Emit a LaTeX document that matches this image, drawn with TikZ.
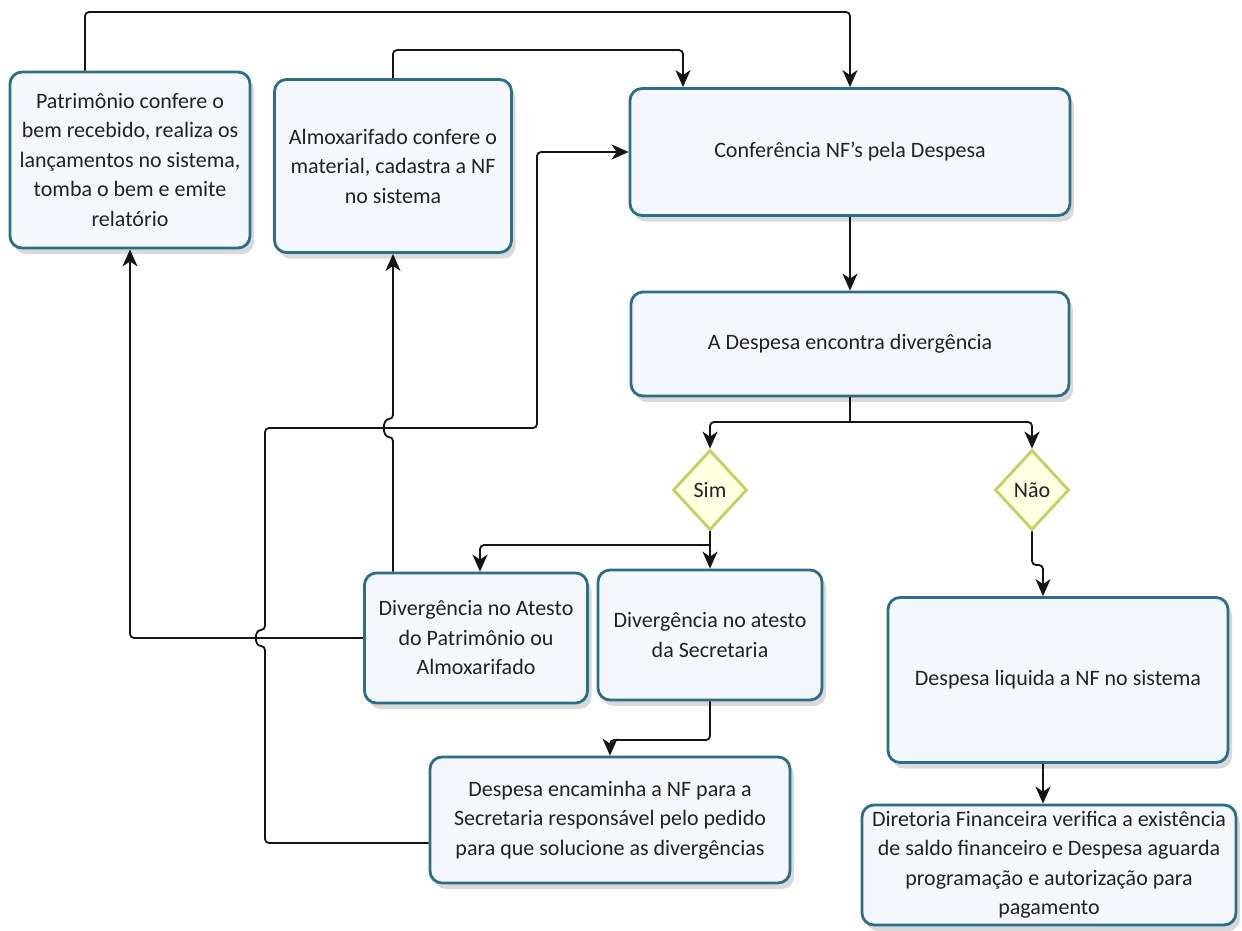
\documentclass[tikz,border=0pt]{standalone}
\usepackage{fontspec}
\setmainfont{Carlito}
\usetikzlibrary{arrows.meta,shapes.geometric,shadows,calc}
\definecolor{boxline}{HTML}{2B6E86}
\definecolor{boxfill}{HTML}{F4F7FC}
\definecolor{dialine}{HTML}{C6CE62}
\definecolor{diafill}{HTML}{FFFFE2}
\definecolor{textc}{HTML}{222222}
\definecolor{linec}{HTML}{151515}
\begin{document}
\begin{tikzpicture}[x=1pt,y=-1pt,
  box/.style={draw=boxline, line width=2.8pt, rounded corners=12pt, fill=boxfill,
    drop shadow={opacity=0.3, shadow xshift=4pt, shadow yshift=-6pt},
    align=center, inner sep=4pt, text=textc,
    font=\fontsize{22}{29.5}\selectfont},
  dia/.style={diamond, draw=dialine, line width=2.8pt, fill=diafill,
    minimum width=74pt, minimum height=80pt, inner sep=0pt, text=textc,
    font=\fontsize{22}{29.5}\selectfont},
  conn/.style={draw=linec, line width=1.8pt, rounded corners=4pt},
  arr/.style={conn, -{Stealth[length=17pt,width=15pt,inset=5pt]}}
]
\useasboundingbox (0,0) rectangle (1242,930);

% boxes
\node[box, minimum width=240pt, minimum height=176pt] (pat) at (130,160)
  {Patrimônio confere o\\bem recebido, realiza os\\lançamentos no sistema,\\tomba o bem e emite\\relatório};
\node[box, minimum width=237pt, minimum height=173pt] (alm) at (393,166)
  {Almoxarifado confere o\\material, cadastra a NF\\no sistema};
\node[box, minimum width=440pt, minimum height=127pt] (conf) at (850,152)
  {Conferência NF’s pela Despesa};
\node[box, minimum width=438pt, minimum height=104pt] (enc) at (850,344)
  {A Despesa encontra divergência};
\node[dia] (sim) at (710,490) {Sim};
\node[dia] (nao) at (1032,490) {Não};
\node[box, minimum width=223pt, minimum height=130pt] (divp) at (476,638)
  {Divergência no Atesto\\do Patrimônio ou\\Almoxarifado};
\node[box, minimum width=224pt, minimum height=130pt] (divs) at (710,635)
  {Divergência no atesto\\da Secretaria};
\node[box, minimum width=340pt, minimum height=165pt] (liq) at (1058,680)
  {Despesa liquida a NF no sistema};
\node[box, minimum width=360pt, minimum height=126pt] (denc) at (610,820)
  {Despesa encaminha a NF para a\\Secretaria responsável pelo pedido\\para que solucione as divergências};
\node[box, minimum width=374pt, minimum height=120pt] (dir) at (1049,865)
  {Diretoria Financeira verifica a existência\\de saldo financeiro e Despesa aguarda\\programação e autorização para\\pagamento};

% coordinates
\coordinate (s1) at (850,422);
\coordinate (s2) at (710,545);
\coordinate (s3) at (1032,565);
\coordinate (s4) at (710,740);
\coordinate (tp) at (85,12);
\coordinate (ta) at (683,50);

% top connectors
\draw[arr] ([xshift=-45pt]pat.north) |- (tp -| conf.north) -- (conf.north);
\draw[arr] (alm.north) |- (ta) -- (ta |- conf.north);
\draw[arr] (conf.south) -- (enc.north);

% split to Sim / Não
\draw[conn] (enc.south) -- (s1);
\draw[arr] (s1) -| (sim.north);
\draw[arr] (s1) -| (nao.north);

% Sim branch
\draw[conn] (sim.south) -- (s2);
\draw[arr] (s2) -- (divs.north);
\draw[arr] (s2) -| ([xshift=4pt]divp.north);

% Não branch
\draw[arr] (nao.south) -- (s3) -| ([xshift=-15pt]liq.north);
\draw[arr] ([xshift=-15pt]liq.south) -- ([xshift=-15pt]liq.south |- dir.north);

% Secretaria -> encaminha
\draw[arr] (divs.south) -- (s4) -| (denc.north);

% Divergência Patrimônio -> Patrimônio
\draw[arr] (divp.west) -| (pat.south);

% Divergência -> Almoxarifado (with hop)
\draw[arr] (divp.north -| alm.south) -- (393,437)
  .. controls (382,437) and (382,419) .. (393,419) -- (alm.south);

% encaminha -> Conferência (with hop)
\draw[arr] ([yshift=-23pt]denc.west) -| (265,646)
  .. controls (254,646) and (254,630) .. (265,630)
  |- (537,428) |- (conf.west);

\end{tikzpicture}
\end{document}
